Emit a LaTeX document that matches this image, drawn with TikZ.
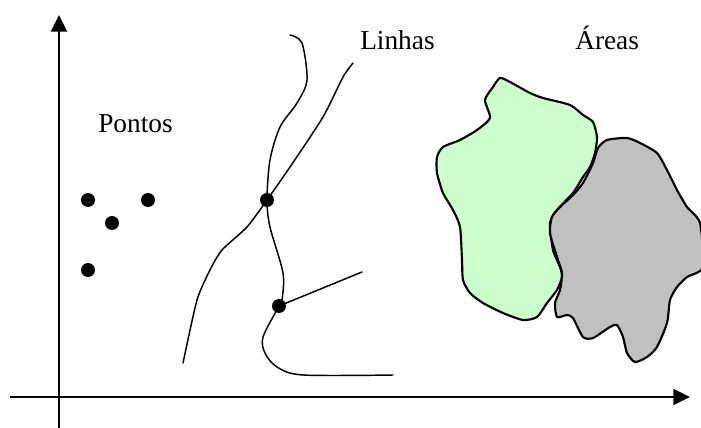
\documentclass[tikz,border=0pt]{standalone}
\usepackage{fontspec}
\setmainfont{Liberation Serif}
\usetikzlibrary{arrows.meta}
\begin{document}
\begin{tikzpicture}[x=0.75pt,y=-0.75pt,
  dot/.style={circle,fill=black,inner sep=0pt,minimum size=10.5pt},
  lbl/.style={anchor=base west,inner sep=0pt,font=\fontsize{20.5}{24}\selectfont},
  axis/.style={line width=1.2pt,-{Triangle[length=12.5pt,width=12pt]}},
  curve/.style={line width=1.1pt,line join=round,line cap=round},
  region/.style={line width=1.6pt,line join=round}]
\useasboundingbox (0,0) rectangle (701,428);
% axes
\coordinate (yb) at (59,428);
\coordinate (yt) at (59,15);
\coordinate (xl) at (10,397);
\coordinate (xr) at (690,397);
\draw[axis] (yb) -- (yt);
\draw[axis] (xl) -- (xr);
% labels
\node[lbl] (pontos) at (98,133) {Pontos};
\node[lbl] (linhas) at (360,50) {Linhas};
\node[lbl] (areas) at (575,50) {Áreas};
% points
\node[dot] (p1) at (88,200) {};
\node[dot] (p2) at (148,200) {};
\node[dot] (p3) at (112,223) {};
\node[dot] (p4) at (88,270) {};
% lines
\coordinate (j1) at (267,200);
\coordinate (j2) at (279,306);
\coordinate (c1) at (362,272);
\draw[curve] plot[smooth,tension=0.5] coordinates {(290,35) (302,43) (307,80) (297,103) (280,127) (270,160) (j1) (270,227) (283,273) (282,300) (j2) (263,337) (265,353) (277,367) (303,375) (393,375)};
\draw[curve] plot[smooth,tension=0.4] coordinates {(183,363) (197,300) (210,270) (222,250) (247,227) (j1) (290,167) (323,117) (343,77) (353,63)};
\draw[curve] (j2) -- (c1);
\node[dot] (d1) at (j1) {};
\node[dot] (d2) at (j2) {};
% areas
\draw[region,fill={rgb,255:red,204;green,255;blue,204}] plot[smooth cycle,tension=0.4] coordinates {(500,78) (510,82) (530,93) (543,98) (570,105) (583,115) (593,122) (597,137) (595,153) (590,167) (583,177) (573,193) (557,210) (550,223) (553,250) (560,267) (562,277) (557,290) (547,303) (537,317) (523,320) (503,313) (483,303) (470,293) (463,280) (462,260) (460,227) (453,210) (443,193) (437,173) (437,157) (443,147) (460,140) (477,130) (490,118) (485,100) (493,87)};
\draw[region,fill={rgb,255:red,192;green,192;blue,192}] plot[smooth cycle,tension=0.4] coordinates {(607,140) (627,138) (640,143) (657,153) (667,170) (677,190) (687,207) (700,223) (703,267) (687,277) (677,287) (670,300) (667,323) (657,347) (647,357) (635,362) (627,353) (623,337) (617,325) (610,327) (593,338) (583,337) (573,318) (567,315) (557,317) (555,303) (560,290) (562,273) (557,257) (550,233) (552,217) (560,207) (573,195) (583,183) (593,163) (598,148)};
\end{tikzpicture}
\end{document}
